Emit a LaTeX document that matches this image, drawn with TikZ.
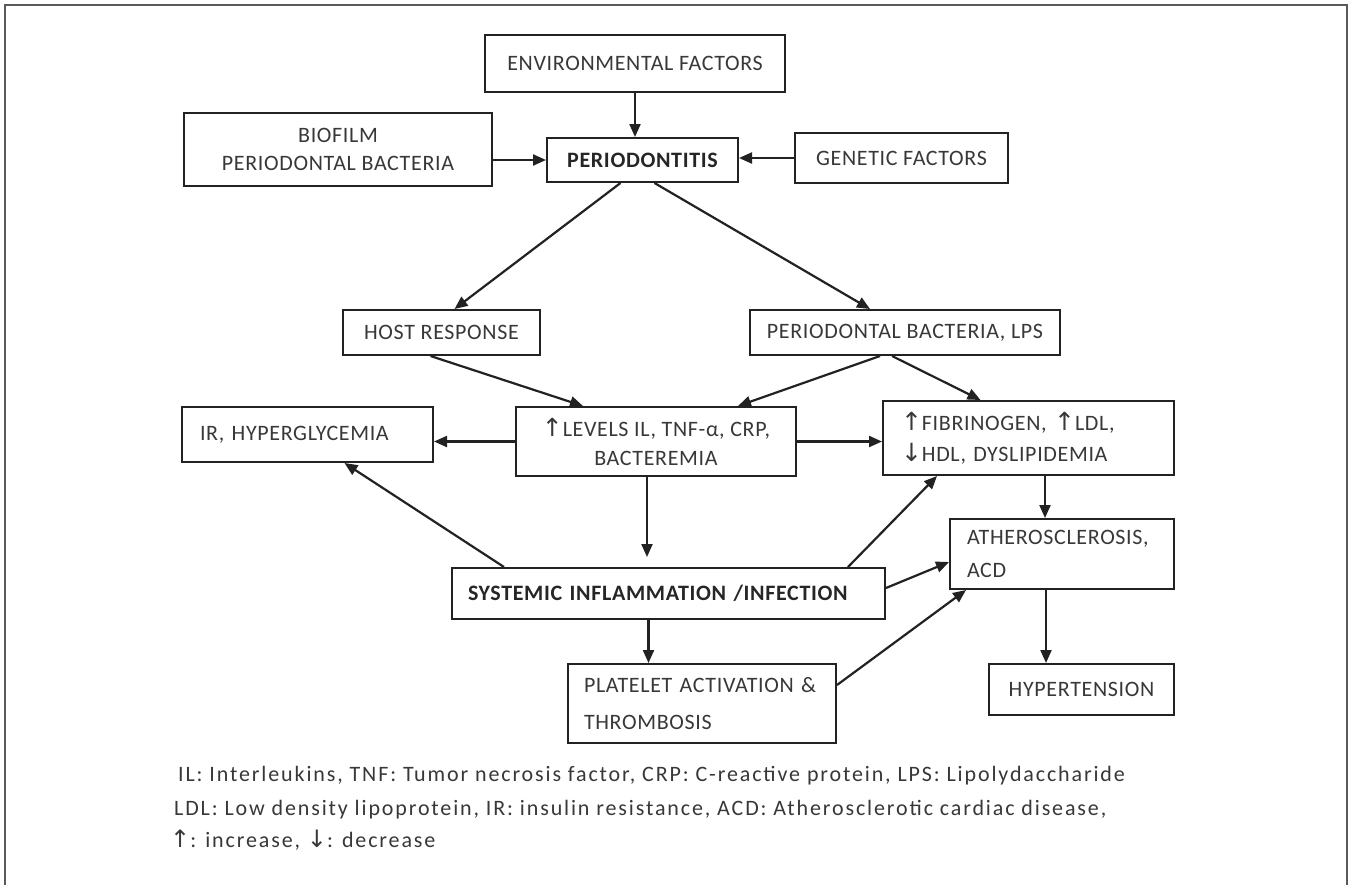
\documentclass[tikz,border=0pt]{standalone}
\usepackage{fontspec}
\setmainfont{Carlito}[LetterSpace=3]
\newfontfamily\footfont{Carlito}[LetterSpace=8.5]
\newfontfamily\arrfont{DejaVu Sans}
\usetikzlibrary{arrows.meta,calc}
\definecolor{linec}{HTML}{222222}
\definecolor{txt}{HTML}{383838}
\definecolor{txtb}{HTML}{262626}
\definecolor{framec}{HTML}{5A5A5A}
\newcommand{\myup}{{\arrfont\fontsize{25}{25}\selectfont ↑}}
\newcommand{\mydown}{{\arrfont\fontsize{25}{25}\selectfont ↓}}
\newcommand{\fup}{{\arrfont\fontsize{24}{24}\selectfont ↑}}
\newcommand{\fdown}{{\arrfont\fontsize{24}{24}\selectfont ↓}}
\tikzset{
  box/.style={draw=linec, line width=2pt, inner sep=0pt, text=txt,
    font=\fontsize{22}{30}\selectfont, align=center},
  lbox/.style={box, align=left},
  arr/.style={draw=linec, line width=2.2pt, -{Triangle[length=13pt,width=11pt]}},
  foot/.style={anchor=west, inner sep=0pt, text=txt, font=\footfont\fontsize{22}{24}\selectfont}
}
\begin{document}
\begin{tikzpicture}[x=1pt,y=-1pt]
\useasboundingbox (0,0) rectangle (1350,884);
\fill[white] (0,0) rectangle (1350,884);
\draw[framec, line width=1.8pt] (5,890) -- (5,5) -- (1347,5) -- (1347,890);

\node[box, minimum width=300pt, minimum height=57pt] (env) at (635,63.5) {ENVIRONMENTAL FACTORS};
\node[box, minimum width=308pt, minimum height=73pt, font=\fontsize{22}{28}\selectfont] (bio) at (338,149.5) {BIOFILM\\PERIODONTAL BACTERIA};
\node[box, minimum width=191pt, minimum height=44pt, text=txtb, font=\fontsize{22}{30}\selectfont\bfseries] (perio) at (642.5,160) {PERIODONTITIS};
\node[box, minimum width=213pt, minimum height=50pt] (gen) at (901.5,158) {GENETIC FACTORS};
\node[box, minimum width=197pt, minimum height=45pt] (host) at (441.5,332.5) {HOST RESPONSE};
\node[box, minimum width=310pt, minimum height=45pt] (lps) at (905,332.5) {PERIODONTAL BACTERIA, LPS};
\node[lbox, minimum width=251pt, minimum height=55pt, text width=215pt] (ir) at (307.5,434.5) {IR, HYPERGLYCEMIA};
\node[box, minimum width=280pt, minimum height=69pt, font=\fontsize{22}{29}\selectfont] (lev) at (656,441.5) {\myup LEVELS IL, TNF-α, CRP,\\BACTEREMIA};
\node[lbox, minimum width=291pt, minimum height=74pt, text width=255pt, font=\fontsize{22}{31}\selectfont] (fib) at (1028.5,438) {\myup FIBRINOGEN, \myup LDL,\\\mydown HDL, DYSLIPIDEMIA};
\node[lbox, minimum width=433pt, minimum height=51pt, text width=401pt, text=txtb, font=\fontsize{22}{30}\selectfont\bfseries] (sys) at (668.5,593.5) {SYSTEMIC INFLAMMATION /INFECTION};
\node[lbox, minimum width=224pt, minimum height=70pt, text width=190pt, font=\fontsize{22}{33}\selectfont] (ath) at (1062,554) {ATHEROSCLEROSIS,\\ACD};
\node[box, minimum width=185pt, minimum height=51pt] (hyp) at (1081.5,689.5) {HYPERTENSION};
\node[lbox, minimum width=268pt, minimum height=79pt, text width=236pt, font=\fontsize{22}{37}\selectfont] (plt) at (702,703.5) {PLATELET ACTIVATION \&\\THROMBOSIS};

\node[foot] (foot1) at (178,776) {IL: Interleukins, TNF: Tumor necrosis factor, CRP: C-reactive protein, LPS: Lipolydaccharide};
\node[foot] (foot2) at (174,810) {LDL: Low density lipoprotein, IR: insulin resistance, ACD: Atherosclerotic cardiac disease,};
\node[foot] (foot3) at (170,840) {\fup: increase, \fdown: decrease};

\draw[arr] (env.south) -- (env.south |- perio.north);
\draw[arr] (perio.west -| bio.east) -- (perio.west);
\draw[arr] (gen.west) -- (gen.west -| perio.east);
\draw[arr] ([xshift=-22pt]perio.south) -- ([xshift=13pt]host.north);
\draw[arr] ([xshift=12pt]perio.south) -- ([xshift=-35pt]lps.north);
\draw[arr] ([xshift=-11pt]host.south) -- ([xshift=-73pt]lev.north);
\draw[arr] ([xshift=-25pt]lps.south) -- ([xshift=82pt]lev.north);
\draw[arr] ([xshift=-13pt]lps.south) -- ([xshift=-48pt]fib.north);
\draw[arr] (lev.west) -- (lev.west -| ir.east);
\draw[arr] (lev.east) -- (lev.east -| fib.west);
\draw[arr, shorten >=10pt] ([xshift=-9pt]lev.south) -- ([xshift=-9pt]lev.south |- sys.north);
\draw[arr] ([xshift=53pt]sys.north west) -- ([xshift=37pt]ir.south);
\draw[arr] ([xshift=-38pt]sys.north east) -- ([xshift=55pt]fib.south west);
\draw[arr] ([yshift=5.5pt]sys.east) -- ([yshift=-8pt]ath.west);
\draw[arr] ([xshift=-20pt]sys.south) -- ([xshift=-20pt]sys.south |- plt.north);
\draw[arr] ([yshift=18.5pt]plt.east) -- ([xshift=17pt]ath.south west);
\draw[arr] ([xshift=16.5pt]fib.south) -- ([xshift=16.5pt]fib.south |- ath.north);
\draw[arr] ([xshift=-16pt]ath.south) -- ([xshift=-16pt]ath.south |- hyp.north);
\end{tikzpicture}
\end{document}
